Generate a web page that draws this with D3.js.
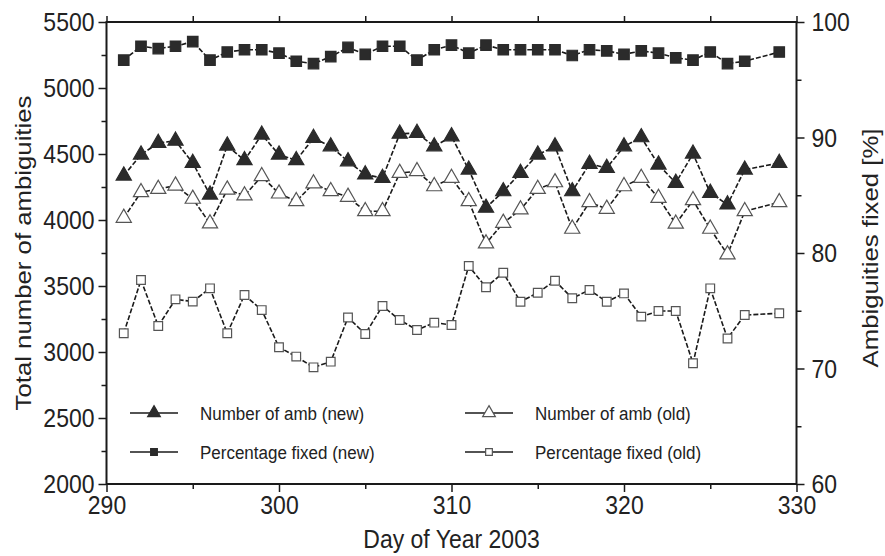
<!DOCTYPE html>
<html>
<head>
<meta charset="utf-8">
<script src="https://cdn.jsdelivr.net/npm/d3@7"></script>
<style>
  html, body { margin: 0; padding: 0; background: #fff; }
  svg { display: block; font-family: "Liberation Sans", Arial, Helvetica, sans-serif; }
</style>
</head>
<body>
<svg id="chart" width="885" height="556"></svg>
<script>
// ---- Data ----
const days = [291,292,293,294,295,296,297,298,299,300,301,302,303,304,305,306,307,308,309,310,
              311,312,313,314,315,316,317,318,319,320,321,322,323,324,325,326,327,329];
const ambNew = [4336,4495,4583,4600,4432,4192,4563,4452,4646,4495,4452,4621,4557,4444,4344,4318,4653,4659,4557,4633,
                4381,4092,4217,4356,4495,4557,4217,4425,4394,4557,4626,4419,4281,4502,4205,4117,4381,4432];
const ambOld = [4016,4210,4235,4260,4160,3973,4230,4185,4331,4200,4142,4276,4218,4175,4066,4066,4356,4369,4255,4318,
                4142,3822,3978,4079,4235,4285,3933,4134,4084,4255,4318,4167,3971,4149,3933,3739,4066,4134];
const pctNew = [96.7,97.9,97.7,97.9,98.3,96.7,97.4,97.6,97.6,97.3,96.6,96.4,97.0,97.8,97.2,97.9,97.9,96.7,97.6,98.0,
                97.3,98.0,97.6,97.6,97.6,97.6,97.1,97.6,97.5,97.2,97.5,97.3,96.9,96.7,97.4,96.4,96.6,97.4];
const pctOld = [73.05,77.66,73.68,75.99,75.79,76.94,73.05,76.36,75.06,71.84,71.03,70.10,70.59,74.42,72.99,75.41,74.20,73.33,73.97,73.77,
                78.87,77.03,78.29,75.78,76.56,77.60,76.08,76.80,75.78,76.50,74.49,74.98,74.98,70.45,76.94,72.60,74.63,74.78];

const xTicksMajor = [290,300,310,320,330];
const leftTicksMajor = [2000,2500,3000,3500,4000,4500,5000,5500];
const rightTicksMajor = [60,70,80,90,100];
const seriesNames = ["Number of amb (new)","Number of amb (old)","Percentage fixed (new)","Percentage fixed (old)"];
const xTitle = "Day of Year 2003";
const yLeftTitle = "Total number of ambiguities";
const yRightTitle = "Ambiguities fixed [%]";

// ---- Layout ----
const W = 885, H = 556;
const m = { left: 106.5, right: W - 796.5, top: 22, bottom: H - 484 };
const svg = d3.select("#chart");

const x = d3.scaleLinear().domain([290, 330]).range([m.left, W - m.right]);
const yL = d3.scaleLinear().domain([2000, 5500]).range([H - m.bottom, m.top]);
const yR = d3.scaleLinear().domain([60, 100]).range([H - m.bottom, m.top]);

const INK = "#1a1a1a";
const TXT = "#222";
const FS = 23;      // tick / title font size
const SY = 1.12;    // vertical stretch of the glyphs seen in the reference

// ---- Axes ----
const gx = svg.append("g").attr("transform", `translate(0,${H - m.bottom})`)
  .call(d3.axisBottom(x).tickValues(xTicksMajor).tickFormat(d3.format("d")).tickSize(8));
const gxMinor = svg.append("g").attr("transform", `translate(0,${H - m.bottom})`)
  .call(d3.axisBottom(x).tickValues(d3.range(295, 330, 10)).tickFormat("").tickSize(5));
const gxTop = svg.append("g").attr("transform", `translate(0,${m.top})`)
  .call(d3.axisTop(x).tickValues(d3.range(290, 331, 5)).tickFormat("").tickSize(6));

const gyL = svg.append("g").attr("transform", `translate(${m.left},0)`)
  .call(d3.axisLeft(yL).tickValues(leftTicksMajor).tickFormat(d3.format("d")).tickSize(8).tickPadding(4));
const gyLMinor = svg.append("g").attr("transform", `translate(${m.left},0)`)
  .call(d3.axisLeft(yL).tickValues(d3.range(2250, 5500, 500)).tickFormat("").tickSize(5));

const gyR = svg.append("g").attr("transform", `translate(${W - m.right},0)`)
  .call(d3.axisRight(yR).tickValues(rightTicksMajor).tickFormat(d3.format("d")).tickSize(8).tickPadding(7));
const gyRMinor = svg.append("g").attr("transform", `translate(${W - m.right},0)`)
  .call(d3.axisRight(yR).tickValues(d3.range(65, 100, 10)).tickFormat("").tickSize(5));

[gx, gxMinor, gxTop, gyL, gyLMinor, gyR, gyRMinor].forEach(g => {
  g.select(".domain").remove();
  g.selectAll(".tick line").attr("stroke", INK).attr("stroke-width", 1.5);
  g.selectAll(".tick text").attr("fill", TXT).style("font-size", FS + "px");
});
// stretch tick labels vertically
gx.selectAll(".tick text").attr("y", 30 / SY).attr("dy", 0).attr("transform", `scale(1,${SY})`);
[gyL, gyR].forEach(g => g.selectAll(".tick text").attr("dy", "0.33em").attr("transform", `scale(1,${SY})`));

// frame
svg.append("rect")
  .attr("x", m.left).attr("y", m.top)
  .attr("width", W - m.left - m.right).attr("height", H - m.top - m.bottom)
  .attr("fill", "none").attr("stroke", INK).attr("stroke-width", 2);

// titles
svg.append("text").attr("transform", `translate(${(m.left + W - m.right) / 2},548) scale(1,${SY})`)
  .attr("text-anchor", "middle").attr("fill", TXT).style("font-size", FS + "px").text(xTitle);
svg.append("text").attr("transform", `translate(31,${(m.top + H - m.bottom) / 2}) rotate(-90) scale(${SY},1)`)
  .attr("text-anchor", "middle").attr("fill", TXT).style("font-size", FS + "px").text(yLeftTitle);
svg.append("text").attr("transform", `translate(878,${(m.top + H - m.bottom) / 2 - 5}) rotate(-90) scale(${SY},1)`)
  .attr("text-anchor", "middle").attr("fill", TXT).style("font-size", FS + "px").text(yRightTitle);

// ---- Series ----
const plot = svg.append("g");
const series = [
  { name: seriesNames[0], vals: ambNew, y: yL, sym: d3.symbolTriangle, size: 100, fill: "#2b2b2b", stroke: "#2b2b2b" },
  { name: seriesNames[1], vals: ambOld, y: yL, sym: d3.symbolTriangle, size: 100, fill: "#fff", stroke: "#555" },
  { name: seriesNames[2], vals: pctNew, y: yR, sym: d3.symbolSquare, size: 110, fill: "#2b2b2b", stroke: "#2b2b2b" },
  { name: seriesNames[3], vals: pctOld, y: yR, sym: d3.symbolSquare, size: 75, fill: "#fff", stroke: "#555" }
];

series.forEach(s => {
  const pts = days.map((d, i) => [x(d), s.y(s.vals[i])]);
  plot.append("path").attr("d", d3.line()(pts))
    .attr("fill", "none").attr("stroke", INK).attr("stroke-width", 1.6).attr("stroke-dasharray", "5,2");
  plot.selectAll(null).data(pts).join("path")
    .attr("transform", p => `translate(${p[0]},${p[1]})`)
    .attr("d", d3.symbol().type(s.sym).size(s.size))
    .attr("fill", s.fill).attr("stroke", s.stroke).attr("stroke-width", 1.2);
});

// ---- Legend ----
const legendItems = [
  { s: series[0], lx: 130, ly: 413 },
  { s: series[2], lx: 130, ly: 452 },
  { s: series[1], lx: 465, ly: 413 },
  { s: series[3], lx: 465, ly: 452 }
];
const lg = svg.append("g");
legendItems.forEach(it => {
  lg.append("line").attr("x1", it.lx).attr("x2", it.lx + 48).attr("y1", it.ly).attr("y2", it.ly)
    .attr("stroke", INK).attr("stroke-width", 1.5);
  lg.append("path").attr("transform", `translate(${it.lx + 24},${it.ly})`)
    .attr("d", d3.symbol().type(it.s.sym).size(it.s.sym === d3.symbolSquare ? 45 : 70))
    .attr("fill", it.s.fill).attr("stroke", it.s.stroke).attr("stroke-width", 1.2);
  lg.append("text").attr("transform", `translate(${it.lx + 70},${it.ly + 7}) scale(1,${SY})`)
    .attr("fill", TXT).style("font-size", "17px").text(it.s.name);
});
</script>
</body>
</html>
